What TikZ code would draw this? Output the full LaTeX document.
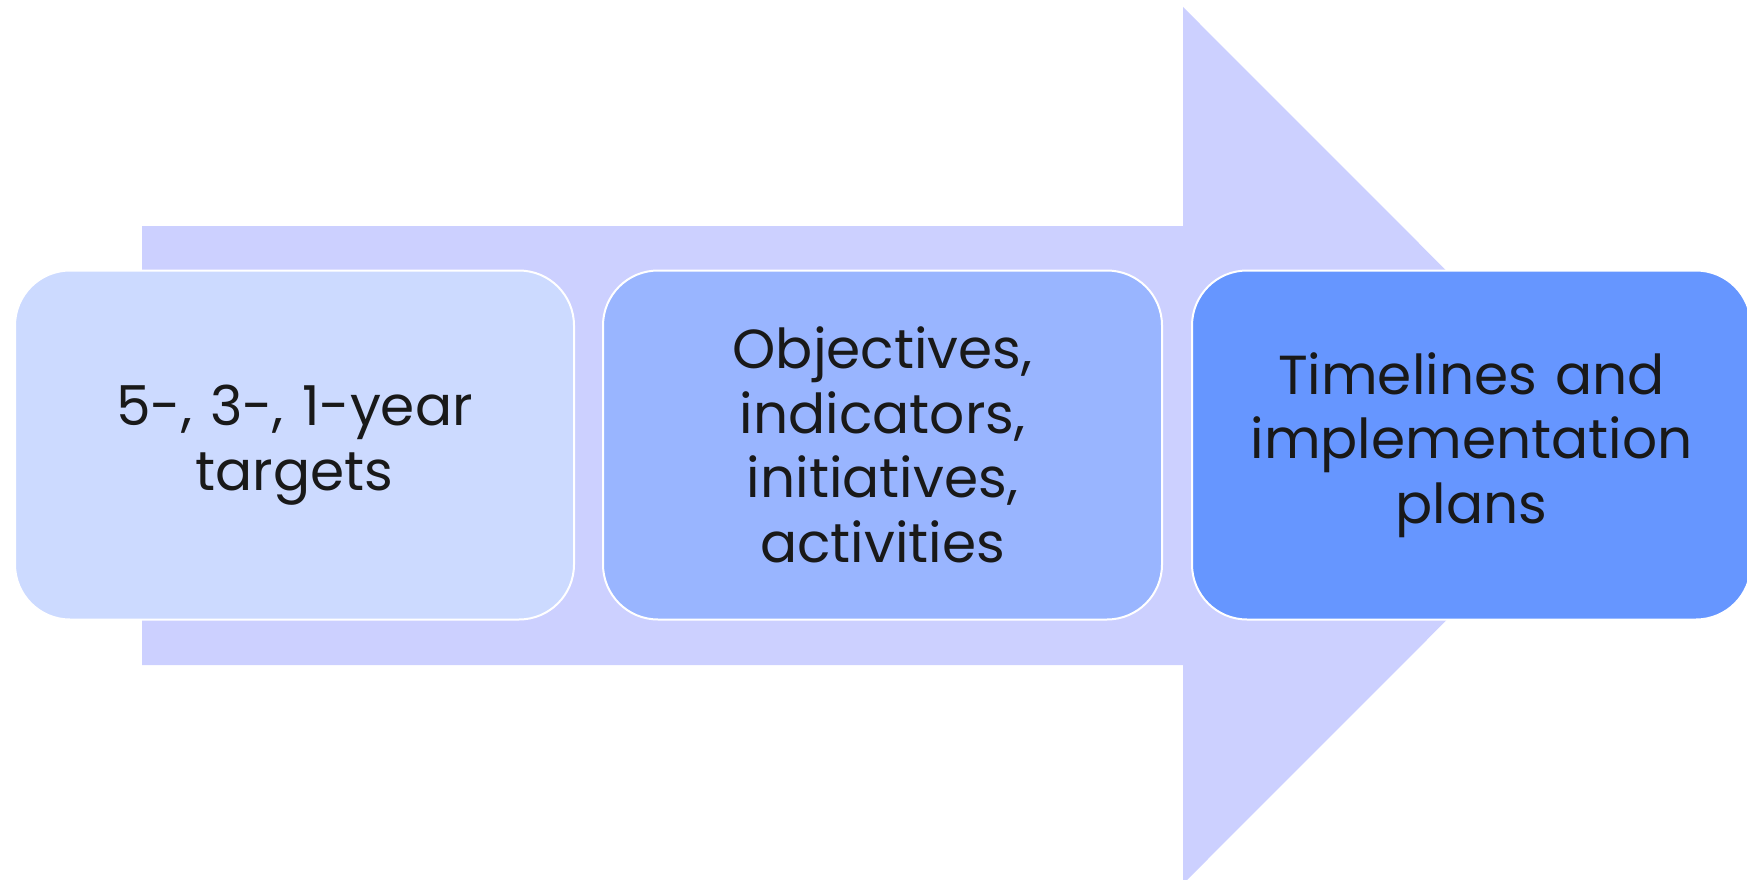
\documentclass[tikz,border=0pt]{standalone}
\usepackage{fontspec}
\setmainfont{Poppins}
\begin{document}
\begin{tikzpicture}[x=1pt,y=-1pt,
  stagebox/.style={rounded corners=55pt, draw=white, line width=2pt,
    minimum width=559pt, minimum height=349pt, inner sep=0pt,
    text width=530pt, align=center, text=black!90,
    font=\fontsize{55}{64.5}\selectfont},
  arrowfill/.style={fill=arrowblue, draw=none}]
\definecolor{arrowblue}{HTML}{CCD0FF}
\definecolor{boxA}{HTML}{CCDAFF}
\definecolor{boxB}{HTML}{99B5FF}
\definecolor{boxC}{HTML}{6696FF}
\useasboundingbox (0,0) rectangle (1747,880);
\begin{scope}
\clip (0,0) rectangle (1747,880);
% wide background arrow
\fill[arrowfill] (142,226) -- (1183,226) -- (1183,7) -- (1621,445.5)
  -- (1183,884) -- (1183,665) -- (142,665) -- cycle;
% three stages
\node[stagebox, fill=boxA] (s1) at (294.5,445) {5-, 3-, 1-year\\targets};
\node[stagebox, fill=boxB] (s2) at (882.5,445) {Objectives,\\indicators,\\initiatives,\\activities};
\node[stagebox, fill=boxC] (s3) at (1471.5,445) {Timelines and\\implementation\\plans};
\end{scope}
\end{tikzpicture}
\end{document}
